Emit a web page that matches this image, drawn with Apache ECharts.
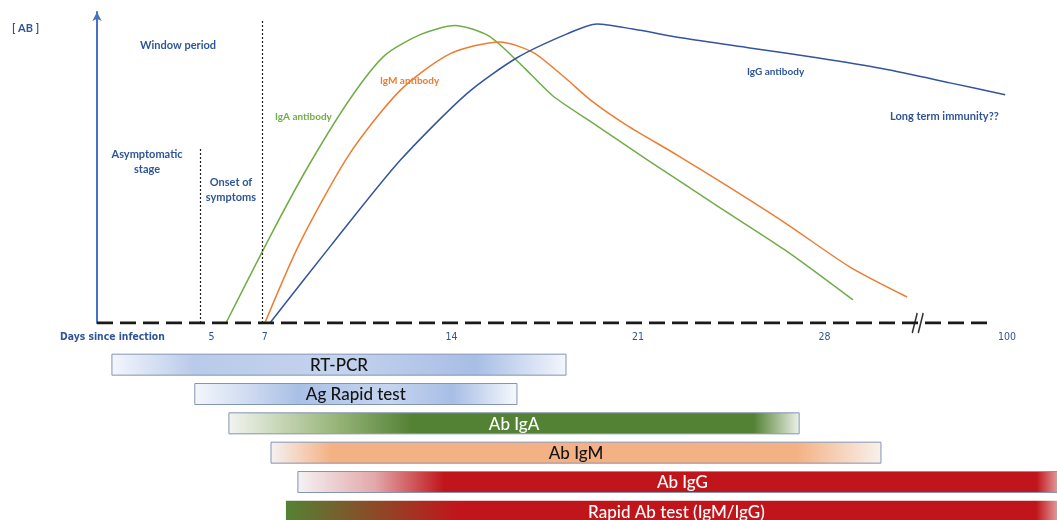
<!DOCTYPE html>
<html><head><meta charset="utf-8">
<script src="https://cdn.jsdelivr.net/npm/echarts@6/dist/echarts.min.js"></script>
<style>html,body{margin:0;padding:0;background:#fff}#c{width:1057px;height:520px}</style>
</head><body><div id="c"></div>
<script>
// ---- data (x in displayed day positions; axis is broken between 28 and 100) ----
const igaData = [[5.54,0],[7.2,29],[8.6,52],[10.2,75],[11.5,89.5],[12.85,96.5],[14.13,99.5],[15.4,96],[16.6,86.5],[17.8,76],[19.2,67.5],[21.45,54],[24,39],[26.5,24.5],[29.07,7.7]];
const igmData = [[7,0],[8.31,26.7],[10.19,56.7],[12.07,77.7],[13.94,90],[15.82,94],[17.06,90.5],[18.2,82.5],[19.3,74],[20.6,66],[22.5,56],[24.5,45],[26.6,33],[28.96,18.7],[31.1,8.7]];
const iggData = [[7.19,0],[9.55,26.7],[12.07,54.3],[14.58,76.7],[16.46,88.7],[18.34,96.7],[19.46,100],[20.81,98.3],[22.69,95.3],[25.2,92],[27.72,88.7],[30.2,85],[32.71,80.3],[34.78,76.3]];
const baseline = [[0.7,0],[34.2,0]];
const tickValues = [5, 7, 14, 21, 28, 34.85];
const tickLabels = ['5', '7', '14', '21', '28', '100'];
const breakAt = 31.5;
const asymptomaticLine = [4.56, 58.3];
const onsetLine = [6.89, 101.7];
const testNames = ['RT-PCR', 'Ag Rapid test', 'Ab IgA', 'Ab IgM', 'Ab IgG', 'Rapid Ab test (IgM/IgG)'];
const testStart = [1.26, 4.37, 5.65, 7.23, 8.24, 7.79];
const testEnd = [18.3, 16.46, 27.05, 30.12, 37.1, 37.1];

// ---- styles ----
const G = (stops) => new echarts.graphic.LinearGradient(0, 0, 1, 0, stops.map(s => ({offset: s[0], color: s[1]})));
const testStyles = [
  {fill: G([[0,'#F3F6FC'],[0.18,'#B9CBEA'],[0.5,'#C4D3EE'],[0.8,'#A7BEE5'],[1,'#F3F6FC']]), text: '#141414', stroke: '#8394B4'},
  {fill: G([[0,'#F3F6FC'],[0.15,'#D3DEF2'],[0.32,'#A9C0E6'],[0.6,'#C6D5EF'],[0.8,'#A7BEE5'],[1,'#F7F9FD']]), text: '#141414', stroke: '#8394B4'},
  {fill: G([[0,'#F2F4F0'],[0.18,'#9CB87E'],[0.32,'#548235'],[0.92,'#548235'],[1,'#EEF2EA']]), text: '#FFFFFF', stroke: '#8394B4'},
  {fill: G([[0,'#F4F2F2'],[0.1,'#F4B183'],[0.86,'#F4B183'],[1,'#F8F1EC']]), text: '#141414', stroke: '#8394B4'},
  {fill: G([[0,'#F4F2F4'],[0.1,'#E3A9AB'],[0.19,'#C0161B'],[0.96,'#C0161B'],[1,'#F0D8D8']]), text: '#FFFFFF', stroke: '#8394B4'},
  {fill: G([[0,'#548235'],[0.22,'#C0161B'],[0.96,'#C0161B'],[1,'#F0D8D8']]), text: '#FFFFFF', stroke: 'rgba(0,0,0,0)'}
];
const blueText = '#2F5597';
const F = "'Lato','Open Sans',sans-serif";
const NARROW = "'DejaVu Sans Condensed','Liberation Sans Narrow',sans-serif";

const chart = echarts.init(document.getElementById('c'), null, {renderer: 'canvas'});
const txt = (text, x, y, color, size, align) => ({
  type: 'text', x: x, y: y,
  style: {text: text, fill: color, font: 'bold ' + size + 'px ' + F, align: align || 'center', verticalAlign: 'middle', lineHeight: 15}
});

chart.setOption({
  animation: false,
  backgroundColor: '#ffffff',
  grid: [
    {left: 97, right: 46, top: 12, bottom: 197, outerBoundsMode: 'none'},
    {left: 97, right: 46, top: 350, height: 176, outerBoundsMode: 'none'}
  ],
  xAxis: [
    {type: 'value', gridIndex: 0, min: 0.7, max: 35,
     axisLine: {show: false}, axisTick: {show: false}, splitLine: {show: false},
     axisLabel: {customValues: tickValues, margin: 9, color: blueText, fontSize: 10.5, fontFamily: NARROW,
       formatter: v => { let k = 0, b = 1e9; tickValues.forEach((t, i) => { if (Math.abs(t - v) < b) { b = Math.abs(t - v); k = i; } }); return tickLabels[k]; }}},
    {type: 'value', gridIndex: 1, min: 0.7, max: 35, show: false}
  ],
  yAxis: [
    {type: 'value', gridIndex: 0, min: 0, max: 104,
     axisLine: {show: true, lineStyle: {color: '#4472C4', width: 2}, symbol: ['none', 'arrow'], symbolSize: [7, 9]},
     axisTick: {show: false}, axisLabel: {show: false}, splitLine: {show: false}},
    {type: 'category', gridIndex: 1, data: testNames, inverse: true, show: false}
  ],
  series: [
    {type: 'line', data: baseline, xAxisIndex: 0, yAxisIndex: 0, symbol: 'none', z: 5,
     lineStyle: {color: '#1a1a1a', width: 3, type: [16, 7]},
     markLine: {silent: true, symbol: 'none', label: {show: false},
       lineStyle: {color: '#222', width: 1.2, type: [2, 2]},
       data: [
         [{coord: [asymptomaticLine[0], 0]}, {coord: [asymptomaticLine[0], asymptomaticLine[1]]}],
         [{coord: [onsetLine[0], 0]}, {coord: [onsetLine[0], onsetLine[1]]}]
       ]},
     markPoint: {silent: true, data: [{coord: [breakAt, 0]}], symbol: 'path://M0,20L5,0M6,20L11,0', symbolSize: [11, 20], symbolOffset: [0, 0],
       itemStyle: {color: 'none', borderColor: '#333', borderWidth: 2}, label: {show: false}}},
    {type: 'line', name: 'IgA', data: igaData, smooth: 0.25, symbol: 'none', lineStyle: {color: '#70AD47', width: 1.5}},
    {type: 'line', name: 'IgM', data: igmData, smooth: 0.25, symbol: 'none', lineStyle: {color: '#ED7D31', width: 1.5}},
    {type: 'line', name: 'IgG', data: iggData, smooth: 0.25, symbol: 'none', lineStyle: {color: '#34549B', width: 1.5}},
    {type: 'custom', xAxisIndex: 1, yAxisIndex: 1, clip: false,
     data: testNames.map((n, i) => [i, testStart[i], testEnd[i]]),
     encode: {x: [1, 2], y: 0},
     renderItem: (params, api) => {
       const i = api.value(0);
       const s = api.coord([api.value(1), i]);
       const e = api.coord([api.value(2), i]);
       const h = 21;
       const st = testStyles[i];
       return {type: 'group', children: [
         {type: 'rect', shape: {x: s[0], y: s[1] - h / 2, width: e[0] - s[0], height: h},
          style: {fill: st.fill, stroke: st.stroke, lineWidth: 1}},
         {type: 'text', style: {text: testNames[i], x: (s[0] + e[0]) / 2, y: s[1] + 1, align: 'center', verticalAlign: 'middle',
           fill: st.text, font: '500 17px ' + F}}
       ]};
     }}
  ],
  graphic: [
    txt('[ AB ]', 12, 28, blueText, 11, 'left'),
    txt('Window period', 178, 45, blueText, 11),
    txt('Asymptomatic\nstage', 147, 162, blueText, 11),
    txt('Onset of\nsymptoms', 231, 190, blueText, 11),
    txt('IgA antibody', 275, 117, '#70AD47', 10, 'left'),
    txt('IgM antibody', 380, 81, '#ED7D31', 10, 'left'),
    txt('IgG antibody', 747, 72, blueText, 10, 'left'),
    txt('Long term immunity??', 890, 116, blueText, 11, 'left'),
    {type: 'text', x: 60, y: 337, style: {text: 'Days since infection', fill: blueText, font: 'bold 10.3px ' + NARROW, align: 'left', verticalAlign: 'middle'}}
  ]
});
</script></body></html>
